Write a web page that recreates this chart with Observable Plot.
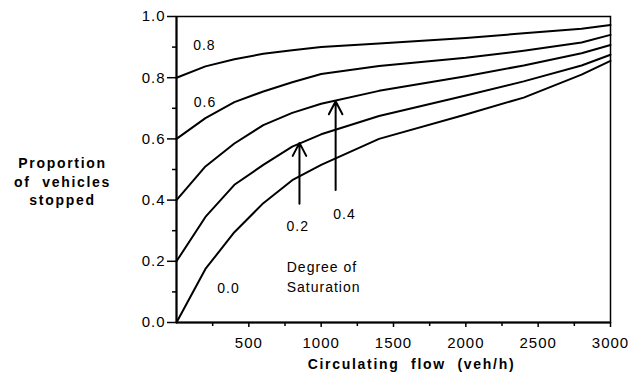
<!DOCTYPE html>
<html><head><meta charset="utf-8">
<script src="https://cdn.jsdelivr.net/npm/d3@7"></script>
<script src="https://cdn.jsdelivr.net/npm/@observablehq/plot@0.6"></script>
<style>
body{margin:0;background:#fff;}
svg text{letter-spacing:1px;}
.btitle text, text.btitle{letter-spacing:1.7px;word-spacing:6px;}
</style></head><body><div id="chart"></div>
<script>
// circulating flow (veh/h)
const flows = [0, 200, 400, 600, 800, 1000, 1400, 2000, 2400, 2800, 3000];
// proportion of vehicles stopped, one list per degree of saturation
const sat00 = [0.00, 0.175, 0.295, 0.390, 0.465, 0.515, 0.600, 0.680, 0.735, 0.810, 0.855];
const sat02 = [0.20, 0.345, 0.450, 0.515, 0.575, 0.615, 0.675, 0.742, 0.788, 0.840, 0.875];
const sat04 = [0.40, 0.510, 0.585, 0.645, 0.685, 0.715, 0.757, 0.805, 0.840, 0.880, 0.907];
const sat06 = [0.60, 0.668, 0.720, 0.755, 0.785, 0.812, 0.838, 0.865, 0.888, 0.915, 0.940];
const sat08 = [0.80, 0.837, 0.860, 0.878, 0.890, 0.900, 0.912, 0.930, 0.945, 0.960, 0.972];
const degrees = ["0.0", "0.2", "0.4", "0.6", "0.8"];
const seriesValues = [sat00, sat02, sat04, sat06, sat08];

// curve labels
const curveLabelText = ["0.8", "0.6", "0.0", "0.2", "0.4"];
const curveLabelX = [193, 197, 359, 838, 1161];
const curveLabelY = [0.904, 0.720, 0.111, 0.315, 0.354];

// arrows pointing to curves 0.2 and 0.4
const arrowX = [850, 1100];
const arrowFrom = [0.388, 0.433];
const arrowTo = [0.587, 0.723];

// annotation
const noteText = "Degree of\nSaturation";
const noteX = 762;
const noteY = 0.152;

// ticks
const xTicks = [500, 1000, 1500, 2000, 2500, 3000];
const xMinor = [250, 750, 1250, 1750, 2250, 2750];
const yTicks = [0, 0.2, 0.4, 0.6, 0.8, 1.0];
const yMinor = [0.1, 0.3, 0.5, 0.7, 0.9];

const xTitle = "Circulating flow (veh/h)";
const yTitle = "Proportion\nof vehicles\nstopped";

const rows = [];
seriesValues.forEach((vals, i) => vals.forEach((v, j) => rows.push({flow: flows[j], p: v, d: degrees[i]})));
const labels = curveLabelText.map((t, i) => ({t, x: curveLabelX[i], y: curveLabelY[i]}));
const arrows = arrowX.map((x, i) => ({x, y1: arrowFrom[i], y2: arrowTo[i]}));

const chart = Plot.plot({
  width: 629,
  height: 379,
  marginLeft: 176,
  marginRight: 19,
  marginTop: 16,
  marginBottom: 57,
  style: {fontFamily: "'Liberation Sans', Arial, sans-serif", fontSize: "15px", color: "black", background: "white"},
  x: {domain: [0, 3000]},
  y: {domain: [0, 1]},
  marks: [
    Plot.frame({stroke: "black", strokeWidth: 1.5}),
    Plot.axisX({ticks: xMinor, tickSize: 4, text: null, strokeWidth: 1.5, label: null}),
    Plot.axisX({ticks: xTicks, tickSize: 5, tickPadding: 10, tickFormat: d3.format("d"), strokeWidth: 1.5, label: null, fill: "black"}),
    Plot.axisY({ticks: yMinor, tickSize: 4, text: null, strokeWidth: 1.5, label: null}),
    Plot.axisY({ticks: yTicks, tickSize: 9, tickPadding: 2, tickFormat: d3.format(".1f"), strokeWidth: 1.5, label: null, fill: "black"}),
    Plot.ruleX([0], {stroke: "black", strokeWidth: 2}),
    Plot.ruleY([0], {stroke: "black", strokeWidth: 2}),
    Plot.line(rows, {x: "flow", y: "p", z: "d", stroke: "black", strokeWidth: 2}),
    Plot.arrow(arrows, {x: "x", y1: "y1", y2: "y2", stroke: "black", strokeWidth: 2, headLength: 11, headAngle: 55}),
    Plot.text(labels, {x: "x", y: "y", text: "t", fontSize: 14, fill: "black"}),
    Plot.text([noteText], {x: () => noteX, y: () => noteY, text: d => d, textAnchor: "start", fontSize: 14, lineHeight: 1.4, fill: "black"}),
    Plot.text([xTitle], {frameAnchor: "bottom", dx: 18, dy: 46, text: d => d, fontSize: 14, fontWeight: "bold", fill: "black", className: "btitle"}),
    Plot.text([yTitle], {frameAnchor: "left", dx: -114, dy: 11, text: d => d, textAnchor: "middle", fontSize: 14, fontWeight: "bold", lineHeight: 1.35, fill: "black", className: "btitle"})
  ]
});
document.getElementById("chart").append(chart);
</script>
</body></html>
